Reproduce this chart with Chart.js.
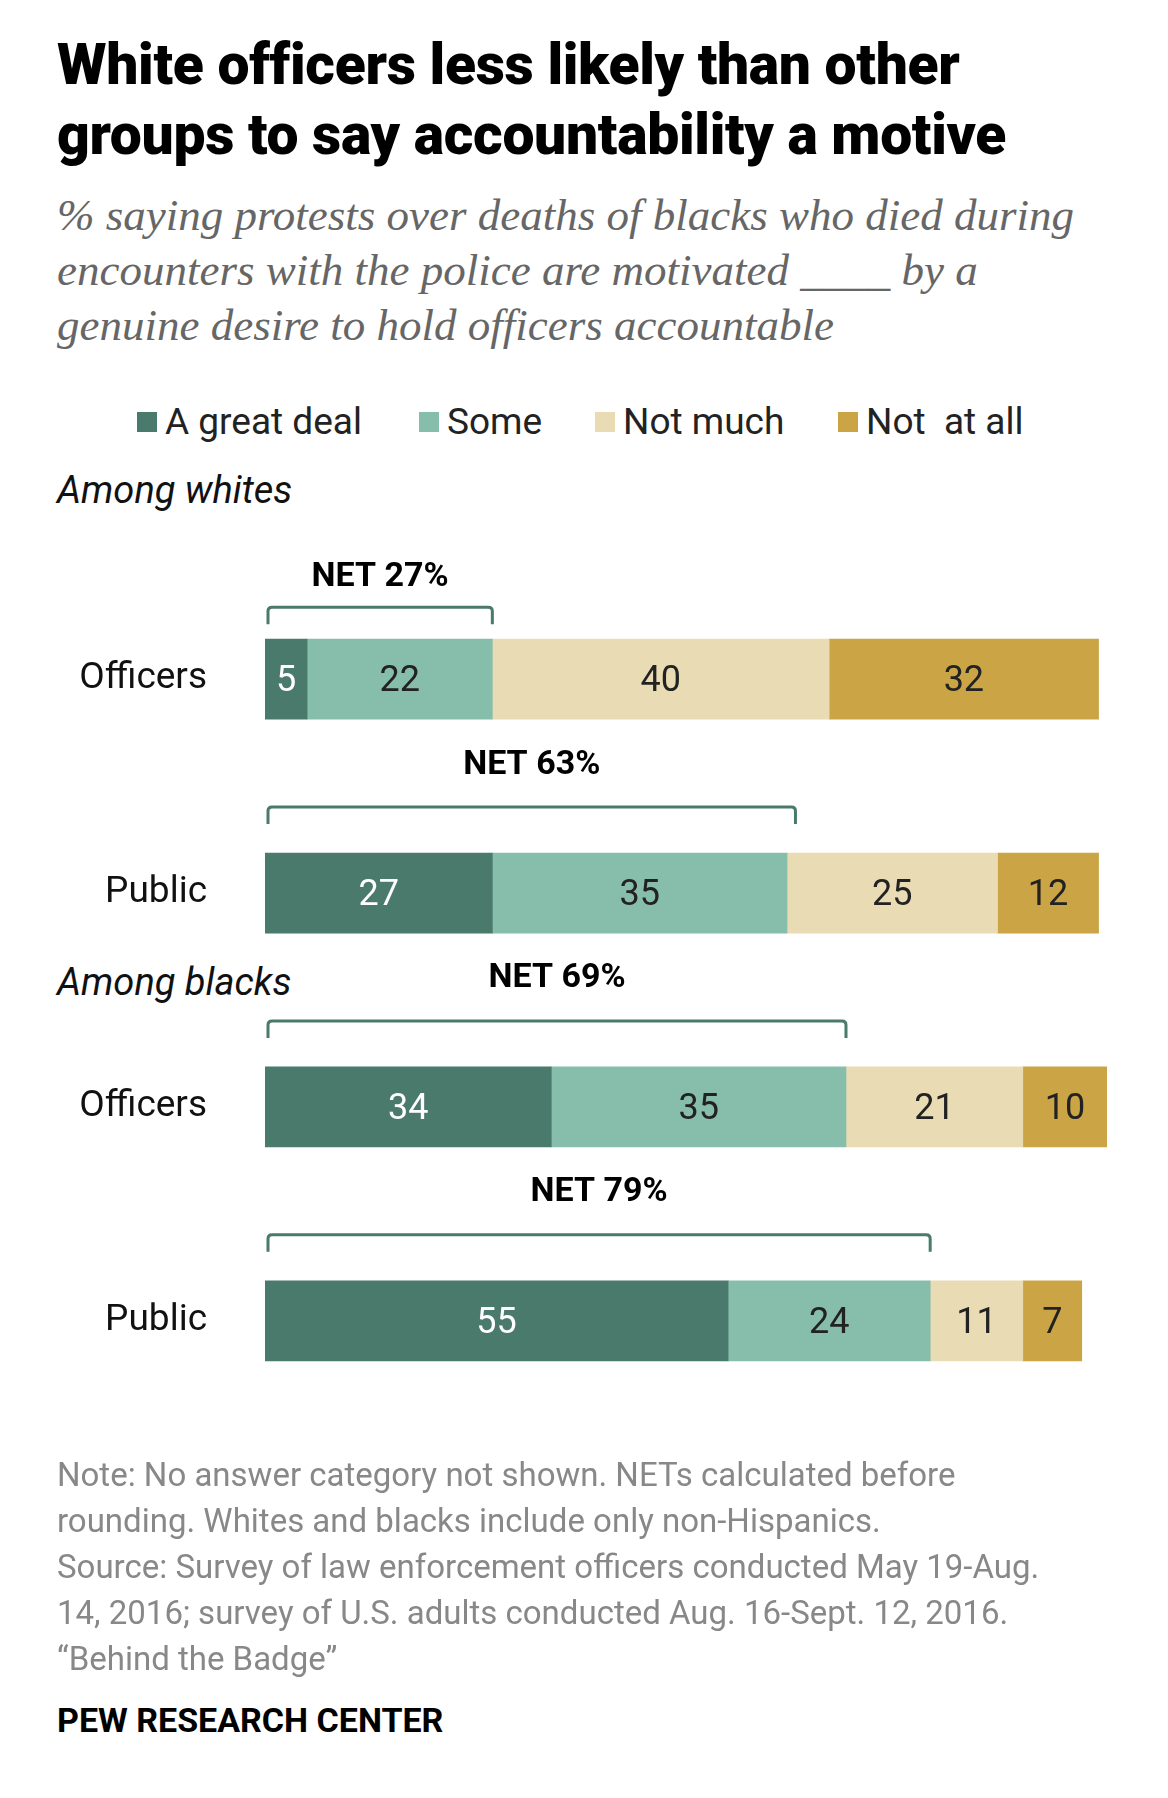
<!DOCTYPE html>
<html><head><meta charset="utf-8">
<script src="https://cdn.jsdelivr.net/npm/chart.js@4/dist/chart.umd.min.js"></script>
<style>
body{margin:0;width:1168px;height:1798px;background:#fff;position:relative;font-family:"Roboto",sans-serif;overflow:hidden}
.a{position:absolute;white-space:nowrap}
#title{left:57px;top:30px;font-family:"Roboto","Liberation Sans",sans-serif;font-weight:900;font-size:57px;line-height:70px;color:#000;letter-spacing:-0.3px}
#sub{left:57px;top:188px;font-family:"Liberation Serif",serif;font-style:italic;font-size:45px;line-height:55px;color:#666}
.lg{top:400px;font-size:37px;color:#222;display:flex;align-items:center}
.sw{width:20px;height:20px;display:inline-block;margin-right:8px}
.grp{left:57px;font-style:italic;font-size:38px;color:#111}
#note{left:57px;top:1452px;font-size:33px;line-height:46px;color:#888}
#pew{left:57px;top:1700px;font-weight:bold;font-size:34px;color:#000}
#wrap{position:absolute;left:0;top:500px;width:1168px;height:1000px}
</style></head><body>
<div class="a" id="title">White officers less likely than other<br>groups to say accountability a motive</div>
<div class="a" id="sub">% saying protests over deaths of blacks who died during<br>encounters with the police are motivated ____ by a<br>genuine desire to hold officers accountable</div>
<div class="a lg" style="left:137px"><span class="sw" style="background:#4a7a6c"></span>A great deal</div>
<div class="a lg" style="left:419px"><span class="sw" style="background:#86bdab"></span>Some</div>
<div class="a lg" style="left:595px"><span class="sw" style="background:#e9dcb4"></span>Not much</div>
<div class="a lg" style="left:838px"><span class="sw" style="background:#cba446"></span>Not&nbsp; at all</div>
<div class="a grp" style="top:468px">Among whites</div>
<div class="a grp" style="top:960px">Among blacks</div>
<div id="wrap"><canvas id="c" width="1168" height="1000" style="width:1168px;height:1000px"></canvas></div>
<div class="a" id="note">Note: No answer category not shown. NETs calculated before<br>rounding. Whites and blacks include only non-Hispanics.<br>Source: Survey of law enforcement officers conducted May 19-Aug.<br>14, 2016; survey of U.S. adults conducted Aug. 16-Sept. 12, 2016.<br>“Behind the Badge”</div>
<div class="a" id="pew">PEW RESEARCH CENTER</div>
<script>
const categories=["Officers","Public","Officers","Public"];
const seriesNames=["A great deal","Some","Not much","Not at all"];
const greatDeal=[5,27,34,55];
const some=[22,35,35,24];
const notMuch=[40,25,21,11];
const notAtAll=[32,12,10,7];
const nets=[27,63,69,79];
const colors=["#4a7a6c","#86bdab","#e9dcb4","#cba446"];
const textColors=["#fff","#222","#222","#222"];
const bracketOff=[32,46,46,46];
const F="'Roboto',sans-serif";
const plug={id:"lab",afterDatasetsDraw(ch){
 const ctx=ch.ctx,x=ch.scales.x;
 ctx.save();ctx.textAlign="center";ctx.textBaseline="middle";
 ch.data.datasets.forEach((ds,di)=>{
  ch.getDatasetMeta(di).data.forEach((b,i)=>{
   ctx.fillStyle=textColors[di];ctx.font="36px "+F;
   ctx.fillText(ds.data[i],(b.base+b.x)/2,b.y+3);
  });
 });
 const m=ch.getDatasetMeta(0).data;
 nets.forEach((n,i)=>{
  const top=m[i].y-40;const yb=top-bracketOff[i];
  const x0=x.getPixelForValue(0)+3,x1=x.getPixelForValue(n);
  ctx.strokeStyle="#4a7a6c";ctx.lineWidth=3;
  ctx.beginPath();ctx.moveTo(x0,yb+17);ctx.lineTo(x0,yb+4);ctx.quadraticCurveTo(x0,yb,x0+4,yb);
  ctx.lineTo(x1-4,yb);ctx.quadraticCurveTo(x1,yb,x1,yb+4);ctx.lineTo(x1,yb+17);ctx.stroke();
  ctx.fillStyle="#000";ctx.font="bold 34px "+F;
  ctx.fillText("NET "+n+"%",(x0+x1)/2,yb-(i==0?30:42));
 });
 ctx.restore();
}};
new Chart(document.getElementById("c"),{type:"bar",
 data:{labels:categories,datasets:[greatDeal,some,notMuch,notAtAll].map((d,i)=>({label:seriesNames[i],data:d,backgroundColor:colors[i],barThickness:80}))},
 options:{indexAxis:"y",responsive:false,animation:false,devicePixelRatio:1,
  layout:{padding:{top:22,bottom:18,right:61,left:0}},
  plugins:{legend:{display:false},tooltip:{enabled:false}},
  scales:{x:{stacked:true,min:0,max:100,display:false},
   y:{stacked:true,grid:{display:false},border:{display:false},
    afterFit(s){s.width=265;},
    ticks:{padding:50,color:"#111",font:{size:37,family:F}}}}},
 plugins:[plug]});
</script>
</body></html>
